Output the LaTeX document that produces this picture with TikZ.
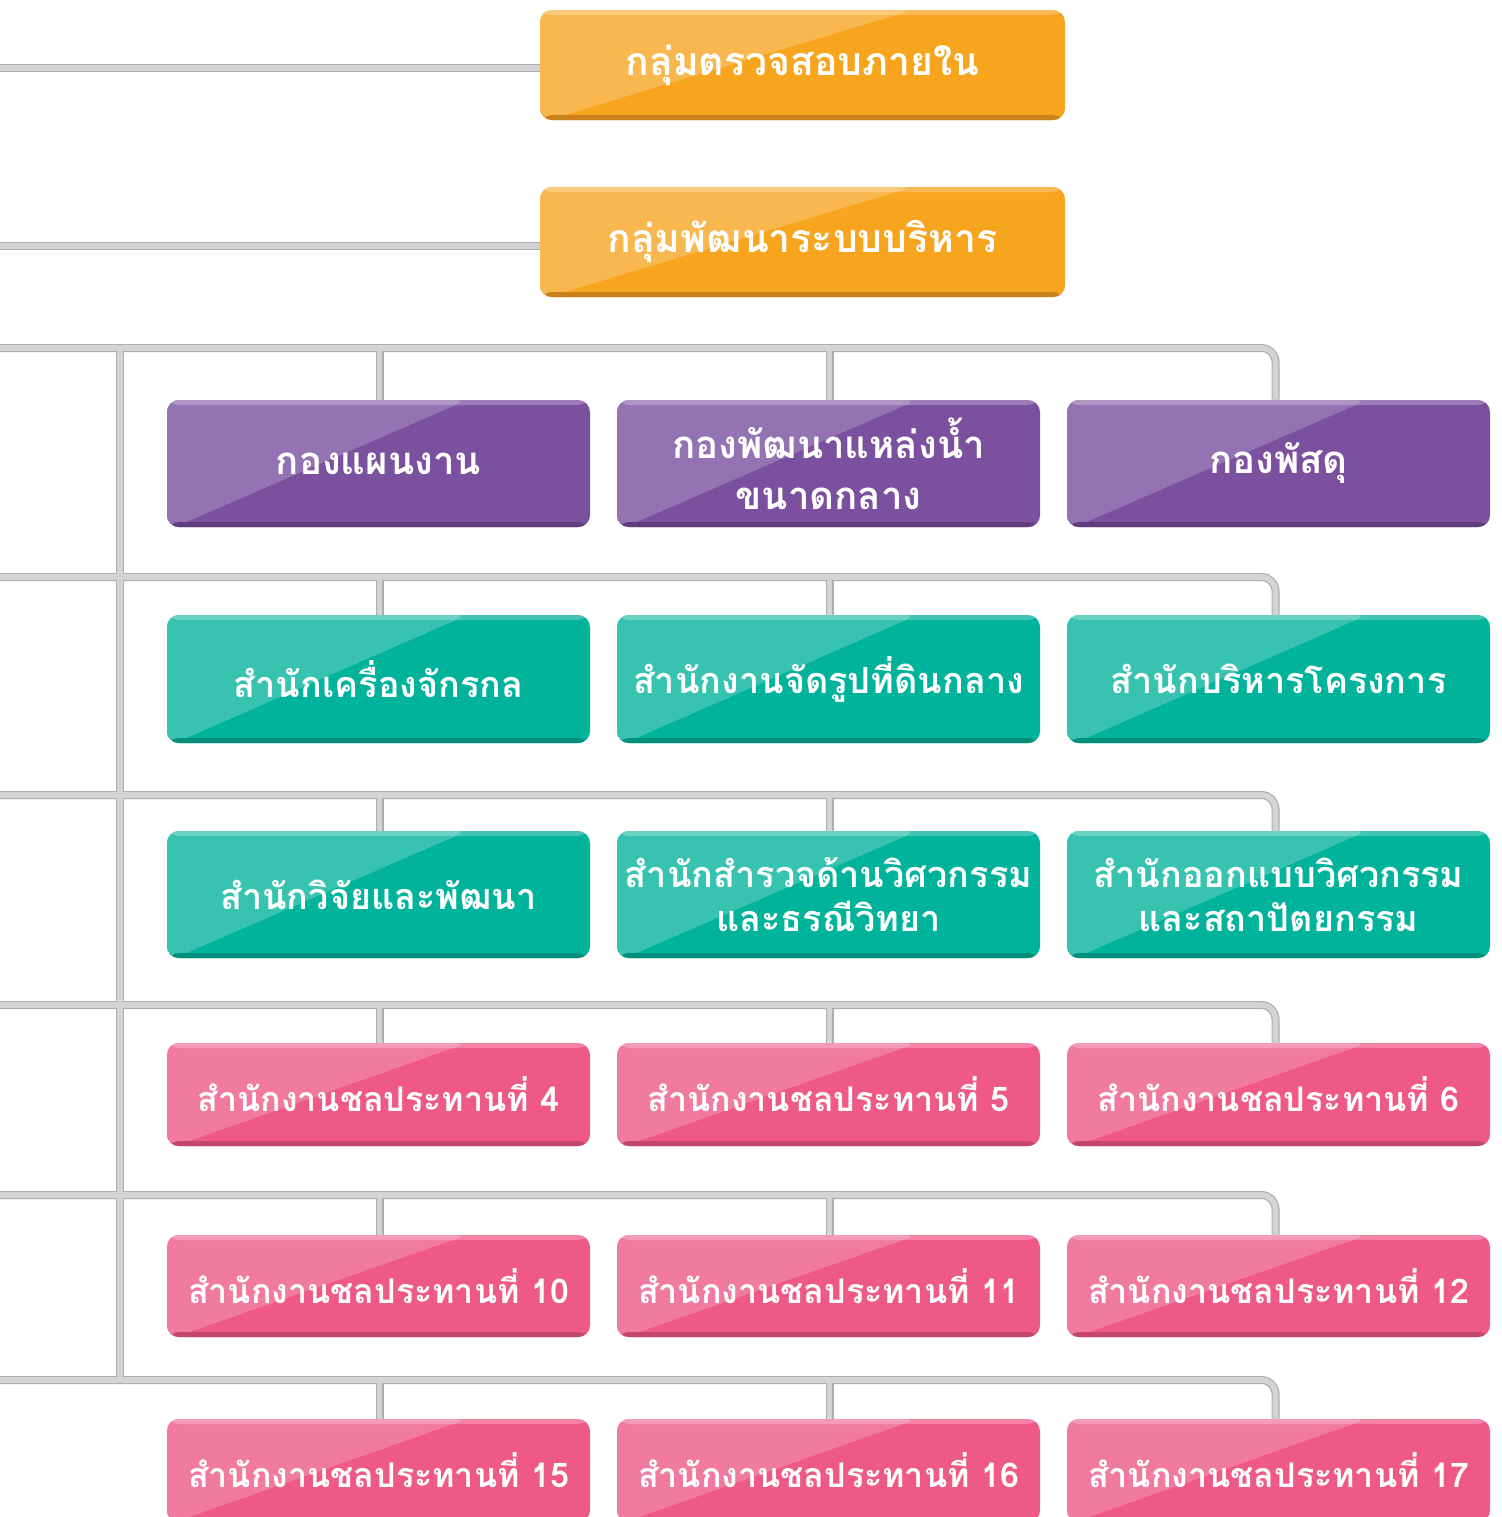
\documentclass[tikz,border=0pt]{standalone}
\usepackage{fontspec}
\newfontfamily\thaifont[Script=Thai]{Loma}
\usetikzlibrary{calc,backgrounds}
\definecolor{orC}{HTML}{F7A41E}\definecolor{orCL}{HTML}{F9B750}\definecolor{orCD}{HTML}{C9821A}
\definecolor{puC}{HTML}{7B509F}\definecolor{puCL}{HTML}{9373B1}\definecolor{puCD}{HTML}{5F3D7E}
\definecolor{tlC}{HTML}{00B39A}\definecolor{tlCL}{HTML}{37C3B0}\definecolor{tlCD}{HTML}{008F7B}
\definecolor{pkC}{HTML}{EF5986}\definecolor{pkCL}{HTML}{F17B9F}\definecolor{pkCD}{HTML}{C2466E}
\definecolor{lnD}{HTML}{ADADAD}\definecolor{lnL}{HTML}{D4D4D4}
\tikzset{
  gbox/.style={rounded corners=6pt, fill=#1C, text=white, align=center, inner sep=0pt,
    path picture={
      \fill[#1CL] (path picture bounding box.south west) -- (path picture bounding box.north west)
        -- ($(path picture bounding box.north west)!0.71!(path picture bounding box.north east)$)
        -- ($(path picture bounding box.south west)+(4pt,0)$) -- cycle;
      \fill[#1CD] (path picture bounding box.south west) rectangle ($(path picture bounding box.south east)+(0,2.5pt)$);
      \fill[white,opacity=0.25] (path picture bounding box.north west) rectangle ($(path picture bounding box.north east)+(0,-2.5pt)$);
    }},
  box/.style 2 args={minimum width=#1*0.5pt, minimum height=#2*0.5pt},
  toptxt/.style={font=\thaifont\bfseries\fontsize{19.6}{25}\selectfont},
  bigtxt/.style={font=\thaifont\bfseries\fontsize{19.2}{24.5}\selectfont},
  midtxt/.style={font=\thaifont\bfseries\fontsize{18}{23.5}\selectfont},
  smtxt/.style={font=\thaifont\bfseries\fontsize{17}{22}\selectfont},
  connA/.style={draw=lnD, line width=4pt, rounded corners=7pt},
  connB/.style={draw=lnL, line width=2.8pt, rounded corners=7pt}
}
\begin{document}
\begin{tikzpicture}[x=0.5pt,y=-0.5pt]
\useasboundingbox (0,0) rectangle (1501,1517);
% top boxes
\node[gbox=or, box={525}{110}, toptxt] (o1) at (802.5,65) {กลุ่มตรวจสอบภายใน};
\node[gbox=or, box={525}{110}, toptxt] (o2) at (802.5,242) {กลุ่มพัฒนาระบบบริหาร};
% row 1
\node[gbox=pu, box={423}{127}, bigtxt] (a1) at (378.5,463.5) {กองแผนงาน};
\node[gbox=pu, box={423}{127}, bigtxt] (a2) at (828.5,463.5) {กองพัฒนาแหล่งน้ำ\\[1pt]ขนาดกลาง};
\node[gbox=pu, box={423}{127}, bigtxt] (a3) at (1278.5,463.5) {กองพัสดุ};
% row 2
\node[gbox=tl, box={423}{128}, midtxt] (b1) at (378.5,679) {สำนักเครื่องจักรกล};
\node[gbox=tl, box={423}{128}, midtxt] (b2) at (828.5,679) {สำนักงานจัดรูปที่ดินกลาง};
\node[gbox=tl, box={423}{128}, midtxt] (b3) at (1278.5,679) {สำนักบริหารโครงการ};
% row 3
\node[gbox=tl, box={423}{127}, midtxt] (c1) at (378.5,894.5) {สำนักวิจัยและพัฒนา};
\node[gbox=tl, box={423}{127}, midtxt] (c2) at (828.5,894.5) {สำนักสำรวจด้านวิศวกรรม\\[-1.5pt]และธรณีวิทยา};
\node[gbox=tl, box={423}{127}, midtxt] (c3) at (1278.5,894.5) {สำนักออกแบบวิศวกรรม\\[-1.5pt]และสถาปัตยกรรม};
% row 4
\node[gbox=pk, box={423}{103}, smtxt] (d1) at (378.5,1094.5) {สำนักงานชลประทานที่ 4};
\node[gbox=pk, box={423}{103}, smtxt] (d2) at (828.5,1094.5) {สำนักงานชลประทานที่ 5};
\node[gbox=pk, box={423}{103}, smtxt] (d3) at (1278.5,1094.5) {สำนักงานชลประทานที่ 6};
% row 5
\node[gbox=pk, box={423}{102}, smtxt] (e1) at (378.5,1286) {สำนักงานชลประทานที่ 10};
\node[gbox=pk, box={423}{102}, smtxt] (e2) at (828.5,1286) {สำนักงานชลประทานที่ 11};
\node[gbox=pk, box={423}{102}, smtxt] (e3) at (1278.5,1286) {สำนักงานชลประทานที่ 12};
% row 6
\node[gbox=pk, box={423}{103}, smtxt] (f1) at (378.5,1470.5) {สำนักงานชลประทานที่ 15};
\node[gbox=pk, box={423}{103}, smtxt] (f2) at (828.5,1470.5) {สำนักงานชลประทานที่ 16};
\node[gbox=pk, box={423}{103}, smtxt] (f3) at (1278.5,1470.5) {สำนักงานชลประทานที่ 17};
% free ends
\coordinate (t1) at (0,68);
\coordinate (t2) at (0,246);
\coordinate (L1) at (0,348);
\coordinate (L2) at (0,577);
\coordinate (L3) at (0,795);
\coordinate (L4) at (0,1005);
\coordinate (L5) at (0,1195);
\coordinate (L6) at (0,1380);
\coordinate (T1) at (120,348);
\coordinate (T2) at (120,1380);
\newcommand\allconn[1]{%
  \draw[#1] (t1) -- (t1 -| o1.west);
  \draw[#1] (t2) -- (t2 -| o2.west);
  \draw[#1] (T1) -- (T2);
  \foreach \r/\L in {a/L1,b/L2,c/L3,d/L4,e/L5,f/L6}{
    \draw[#1] (\L) -| ([xshift=-1.5pt]\r3.north);
    \draw[#1] ([xshift=0.5pt]\r1.north) -- ([xshift=0.5pt]\r1.north |- \L);
    \draw[#1] ([xshift=0.5pt]\r2.north) -- ([xshift=0.5pt]\r2.north |- \L);
  }}
\begin{scope}[on background layer]
  \fill[white] (0,0) rectangle (1501,1517);
  \allconn{connA}
  \allconn{connB}
\end{scope}
\end{tikzpicture}
\end{document}
